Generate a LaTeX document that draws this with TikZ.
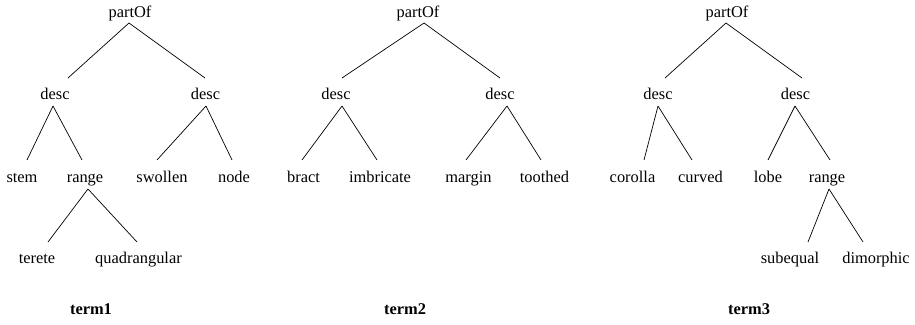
\documentclass[tikz,border=0pt]{standalone}
\usepackage{fontspec}
\setmainfont{Liberation Serif}
\begin{document}
\begin{tikzpicture}[x=1pt,y=-1pt,
  lbl/.style={anchor=base,inner sep=0pt,font=\fontsize{16.4}{18}\selectfont},
  ttl/.style={anchor=base,inner sep=0pt,font=\fontsize{16.4}{18}\selectfont\bfseries},
  edge/.style={draw=black,line width=0.7pt}]
\useasboundingbox (0,0) rectangle (915,324);
% ---------- tree 1 ----------
\node[lbl] (p1) at (130,17) {partOf};
\node[lbl] (d1a) at (55,99) {desc};
\node[lbl] (d1b) at (205.5,99) {desc};
\node[lbl] (stem) at (22,182) {stem};
\node[lbl] (r1) at (85,182) {range};
\node[lbl] (swollen) at (162,182) {swollen};
\node[lbl] (nodeW) at (234,182) {node};
\node[lbl] (terete) at (37,263) {terete};
\node[lbl] (quad) at (138.5,263) {quadrangular};
\node[ttl] (t1) at (91,314) {term1};
\draw[edge] ([xshift=-1pt,yshift=-6pt]p1.base) -- ([xshift=13pt,yshift=21pt]d1a.base);
\draw[edge] ([xshift=-1pt,yshift=-6pt]p1.base) -- ([xshift=-0.5pt,yshift=21pt]d1b.base);
\draw[edge] ([xshift=-2pt,yshift=-7pt]d1a.base) -- ([xshift=5pt,yshift=22pt]stem.base);
\draw[edge] ([xshift=-2pt,yshift=-7pt]d1a.base) -- ([xshift=-3pt,yshift=22pt]r1.base);
\draw[edge] ([xshift=0.5pt,yshift=-7pt]d1b.base) -- ([xshift=-5pt,yshift=22pt]swollen.base);
\draw[edge] ([xshift=0.5pt,yshift=-7pt]d1b.base) -- ([xshift=-2pt,yshift=22pt]nodeW.base);
\draw[edge] ([xshift=3pt,yshift=-7pt]r1.base) -- ([xshift=11pt,yshift=21pt]terete.base);
\draw[edge] ([xshift=3pt,yshift=-7pt]r1.base) -- ([xshift=-1.5pt,yshift=21pt]quad.base);
% ---------- tree 2 ----------
\node[lbl] (p2) at (418,17) {partOf};
\node[lbl] (d2a) at (336,99) {desc};
\node[lbl] (d2b) at (500,99) {desc};
\node[lbl] (bract) at (303.5,182) {bract};
\node[lbl] (imbr) at (380,182) {imbricate};
\node[lbl] (margin) at (468.5,182) {margin};
\node[lbl] (tooth) at (544.5,182) {toothed};
\node[ttl] (t2) at (405,314) {term2};
\draw[edge] ([xshift=6pt,yshift=-6pt]p2.base) -- ([xshift=6pt,yshift=21pt]d2a.base);
\draw[edge] ([xshift=6pt,yshift=-6pt]p2.base) -- ([xshift=0pt,yshift=21pt]d2b.base);
\draw[edge] ([xshift=6pt,yshift=-7pt]d2a.base) -- ([xshift=-1.5pt,yshift=22pt]bract.base);
\draw[edge] ([xshift=6pt,yshift=-7pt]d2a.base) -- ([xshift=-3pt,yshift=22pt]imbr.base);
\draw[edge] ([xshift=7pt,yshift=-7pt]d2b.base) -- ([xshift=-2.5pt,yshift=22pt]margin.base);
\draw[edge] ([xshift=7pt,yshift=-7pt]d2b.base) -- ([xshift=-3.5pt,yshift=22pt]tooth.base);
% ---------- tree 3 ----------
\node[lbl] (p3) at (727,17) {partOf};
\node[lbl] (d3a) at (658,99) {desc};
\node[lbl] (d3b) at (795.5,99) {desc};
\node[lbl] (corolla) at (632.5,182) {corolla};
\node[lbl] (curved) at (700.5,182) {curved};
\node[lbl] (lobe) at (768,182) {lobe};
\node[lbl] (r3) at (827,182) {range};
\node[lbl] (subeq) at (790,263) {subequal};
\node[lbl] (dimor) at (876,263) {dimorphic};
\node[ttl] (t3) at (749,314) {term3};
\draw[edge] ([xshift=-1pt,yshift=-6pt]p3.base) -- ([xshift=7pt,yshift=21pt]d3a.base);
\draw[edge] ([xshift=-1pt,yshift=-6pt]p3.base) -- ([xshift=6.5pt,yshift=21pt]d3b.base);
\draw[edge] ([xshift=0pt,yshift=-7pt]d3a.base) -- ([xshift=11.5pt,yshift=22pt]corolla.base);
\draw[edge] ([xshift=0pt,yshift=-7pt]d3a.base) -- ([xshift=-8.5pt,yshift=22pt]curved.base);
\draw[edge] ([xshift=-0.5pt,yshift=-7pt]d3b.base) -- ([xshift=0pt,yshift=22pt]lobe.base);
\draw[edge] ([xshift=-0.5pt,yshift=-7pt]d3b.base) -- ([xshift=3pt,yshift=22pt]r3.base);
\draw[edge] ([xshift=2pt,yshift=-7pt]r3.base) -- ([xshift=18pt,yshift=21pt]subeq.base);
\draw[edge] ([xshift=2pt,yshift=-7pt]r3.base) -- ([xshift=-13pt,yshift=21pt]dimor.base);
\end{tikzpicture}
\end{document}
